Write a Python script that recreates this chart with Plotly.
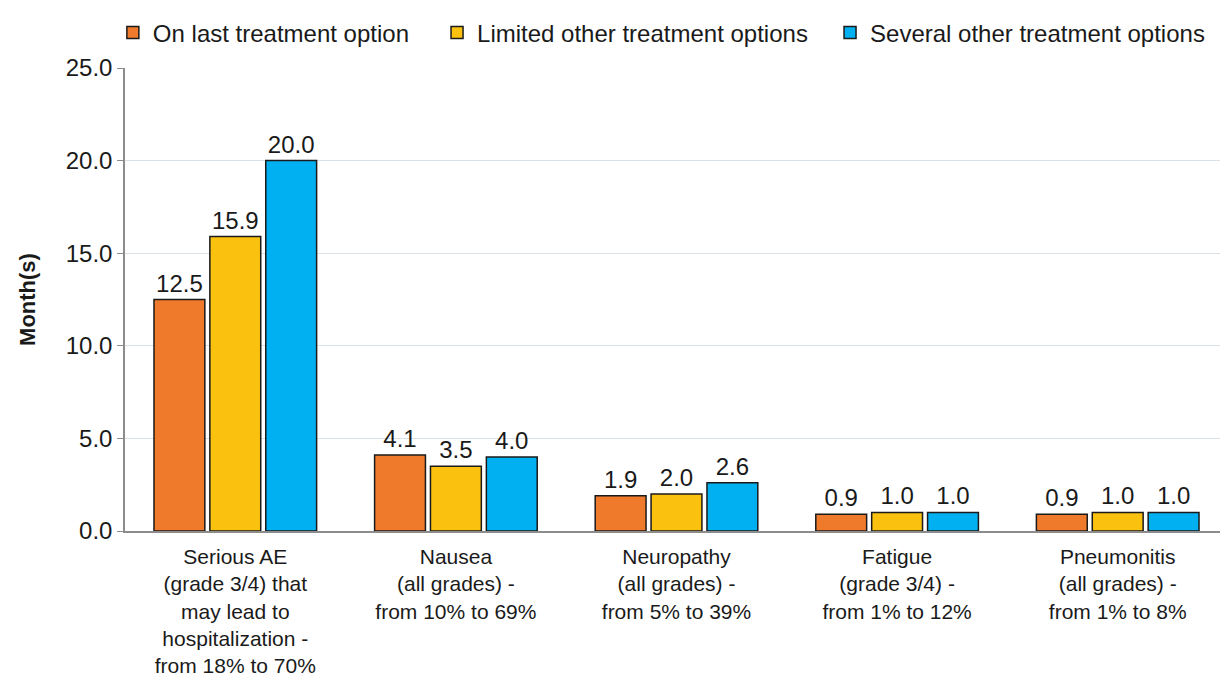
import plotly.graph_objects as go

categories = [
    "Serious AE<br>(grade 3/4) that<br>may lead to<br>hospitalization -<br>from 18% to 70%",
    "Nausea<br>(all grades) -<br>from 10% to 69%",
    "Neuropathy<br>(all grades) -<br>from 5% to 39%",
    "Fatigue<br>(grade 3/4) -<br>from 1% to 12%",
    "Pneumonitis<br>(all grades) -<br>from 1% to 8%",
]
series_names = ["On last treatment option", "Limited other treatment options", "Several other treatment options"]
last_option = [12.5, 4.1, 1.9, 0.9, 0.9]
limited_options = [15.9, 3.5, 2.0, 1.0, 1.0]
several_options = [20.0, 4.0, 2.6, 1.0, 1.0]
colors = ["#F07A2C", "#FAC20F", "#00B0F0"]
legend_ids = ["legend", "legend2", "legend3"]
legend_x = [-0.011, 0.2829, 0.6392]

FONT = "Liberation Sans"

fig = go.Figure()
for name, vals, col, lg in zip(series_names, [last_option, limited_options, several_options], colors, legend_ids):
    fig.add_trace(go.Bar(
        x=categories, y=vals, name=name, legend=lg,
        marker=dict(color=col, line=dict(color="#1a1a1a", width=1.5)),
        texttemplate="%{y:.1f}", textposition="outside",
        textfont=dict(size=24, color="#1a1a1a", family=FONT),
        cliponaxis=False,
    ))

legend_common = dict(orientation="h", xanchor="left", y=1.076, yanchor="middle",
                     font=dict(size=24), itemwidth=30, bgcolor="rgba(0,0,0,0)")

fig.update_layout(
    width=1220, height=683,
    paper_bgcolor="white", plot_bgcolor="white",
    margin=dict(l=117, r=0, t=60, b=160),
    barmode="group", bargap=0.24, bargroupgap=0.09,
    font=dict(family=FONT, size=23, color="#1a1a1a"),
    legend=dict(x=legend_x[0], **legend_common),
    legend2=dict(x=legend_x[1], **legend_common),
    legend3=dict(x=legend_x[2], **legend_common),
    showlegend=True,
)
fig.update_yaxes(
    range=[0, 25], dtick=5, tickformat=".1f",
    showgrid=True, gridcolor="#D9E1E8", gridwidth=1,
    showline=True, linecolor="#8C8C8C", linewidth=1.5,
    ticks="outside", ticklen=6, tickcolor="#8C8C8C",
    tickfont=dict(size=24), zeroline=False,
    title=dict(text="<b>Month(s)</b>", font=dict(size=22), standoff=24),
)
fig.update_xaxes(
    showline=True, linecolor="#8C8C8C", linewidth=1.5,
    tickfont=dict(size=21), ticks="", ticklabelstandoff=6,
)

fig.write_html("out.html")
